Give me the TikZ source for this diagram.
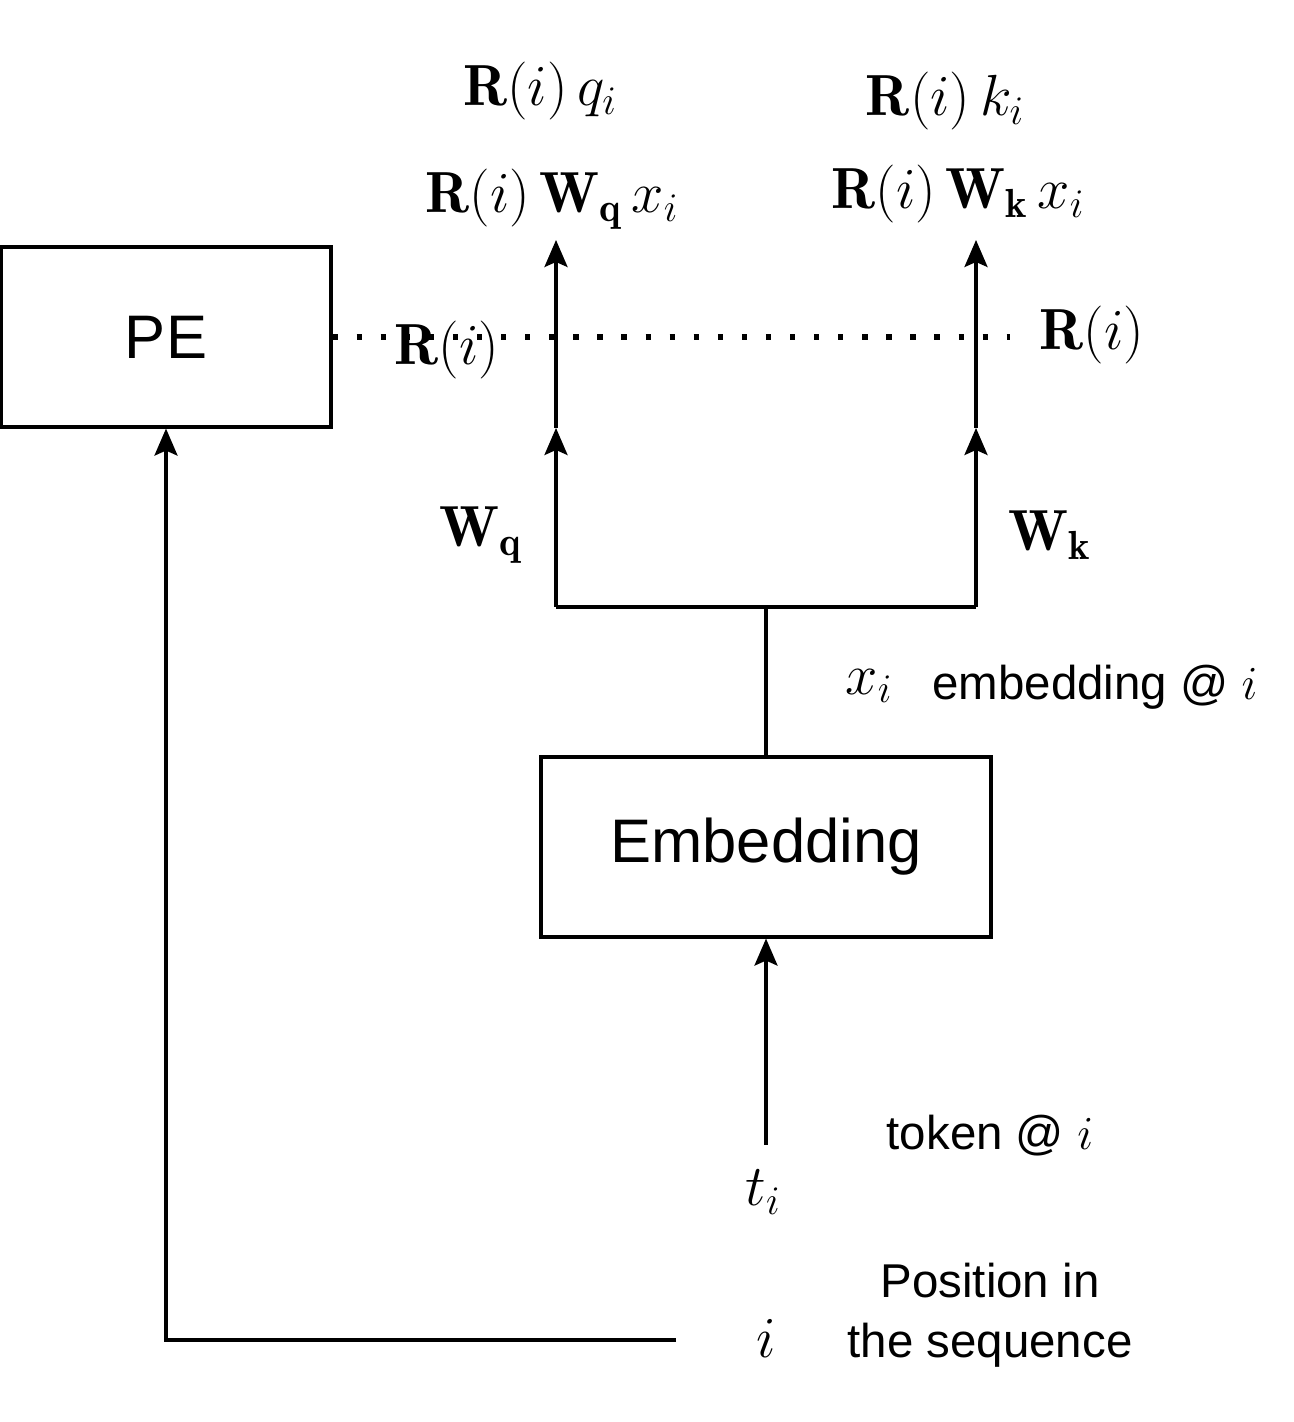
\RequirePackage{fix-cm}
\documentclass[tikz,border=0pt]{standalone}
\usepackage{fontspec}
\setsansfont{Liberation Sans}
\usetikzlibrary{arrows.meta}

\begin{document}
\begin{tikzpicture}[
    block/.style={draw, line width=1.8pt, minimum width=6.6cm, minimum height=3.6cm, font=\sffamily\fontsize{35}{42}\selectfont},
    mlabel/.style={inner sep=0pt, font=\fontsize{33}{40}\selectfont},
    tlabel/.style={inner sep=0pt, align=center, font=\sffamily\fontsize{27}{34}\selectfont},
    conn/.style={line width=1.8pt, -{Stealth[length=0.54cm, width=0.46cm, inset=0.1cm]}},
    wire/.style={line width=1.8pt}
  ]
            \useasboundingbox (0,0) rectangle (25.86,28.44);

            % boxes
            \node[block] (pe) at (3.32,21.70) {PE};
            \node[block, minimum width=9cm] (emb) at (15.32,11.50) {Embedding};

            % labels
            \node[mlabel] (rq) at (10.80,26.62) {$\mathbf{R}(i)\,q_i$};
            \node[mlabel] (rk) at (18.90,26.42) {$\mathbf{R}(i)\,k_i$};
            \node[mlabel] (rwq) at (11.04,24.46) {$\mathbf{R}(i)\,\mathbf{W}_{\mathbf{q}}\,x_i$};
            \node[mlabel] (rwk) at (19.16,24.56) {$\mathbf{R}(i)\,\mathbf{W}_{\mathbf{k}}\,x_i$};
            \node[mlabel] (rl) at (8.94,21.44) {$\mathbf{R}(i)$};
            \node[mlabel] (rr) at (21.84,21.74) {$\mathbf{R}(i)$};
            \node[mlabel] (wq) at (9.62,17.74) {$\mathbf{W}_{\mathbf{q}}$};
            \node[mlabel] (wk) at (21.00,17.74) {$\mathbf{W}_{\mathbf{k}}$};
            \node[mlabel] (xi) at (17.38,14.72) {$x_i$};
            \node[tlabel] (embtxt) at (21.90,14.70) {embedding @ $i$};
            \node[tlabel] (toktxt) at (19.80,5.72) {token @ $i$};
            \node[mlabel] (ti) at (15.26,4.60) {$t_i$};
            \node[mlabel] (pos) at (15.32,1.68) {$i$};
            \node[tlabel] (postxt) at (19.80,2.14) {Position in\\the sequence};

            % points
            \coordinate (split) at (15.32,16.30);
            \coordinate (qsplit) at (11.12,16.30);
            \coordinate (ksplit) at (19.52,16.30);
            \coordinate (qmid) at (11.12,19.88);
            \coordinate (kmid) at (19.52,19.88);
            \coordinate (qtop) at (11.12,23.64);
            \coordinate (ktop) at (19.52,23.64);
            \coordinate (rend) at (20.20,21.70);
            \coordinate (tstart) at (15.32,5.54);
            \coordinate (pstart) at (13.52,1.64);

            \draw[line width=3pt, dash pattern=on 3pt off 10.7pt] (pe.east) -- (rend);
            \draw[wire] (emb.north) -- (split);
            \draw[wire] (qsplit) -- (ksplit);
            \draw[conn] (qsplit) -- (qmid);
            \draw[conn] (qmid) -- (qtop);
            \draw[conn] (ksplit) -- (kmid);
            \draw[conn] (kmid) -- (ktop);
            \draw[conn] (tstart) -- (emb.south);
            \draw[conn] (pstart) -| (pe.south);

        \end{tikzpicture}
\end{document}
